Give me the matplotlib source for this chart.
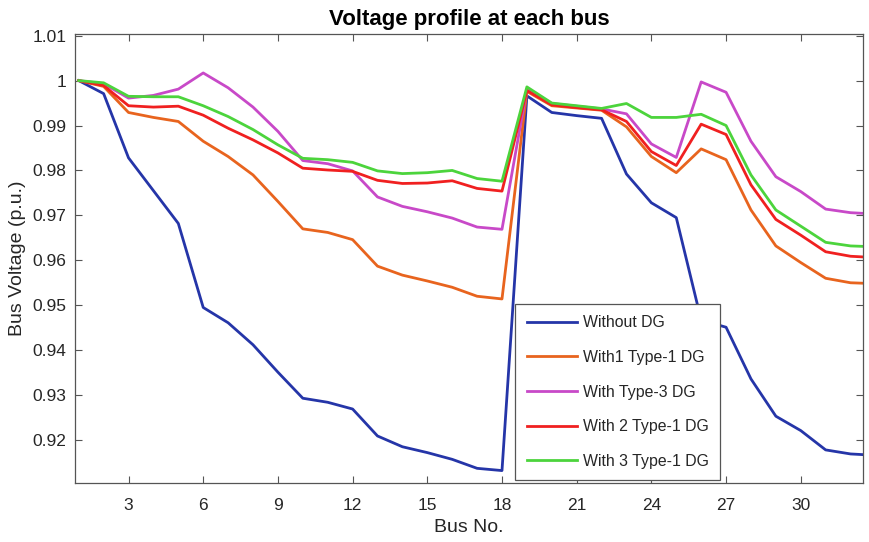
import numpy as np
import matplotlib.pyplot as plt

# Spannungsprofil je Bus
bus = np.arange(1, 34)

without_dg = [1.0, 0.9971, 0.9828, 0.9755, 0.9682, 0.9495, 0.9461, 0.9412, 0.9351, 0.9293,
              0.9284, 0.9269, 0.9209, 0.9185, 0.9172, 0.9157, 0.9137, 0.9132, 0.9966, 0.9929,
              0.9922, 0.9916, 0.9792, 0.9728, 0.9695, 0.9467, 0.9451, 0.9336, 0.9253, 0.9221,
              0.9178, 0.9169, 0.9166]
with1_type1 = [1.0, 0.9987, 0.9929, 0.9918, 0.9909, 0.9865, 0.9831, 0.9790, 0.9731, 0.9670,
               0.9662, 0.9646, 0.9587, 0.9567, 0.9554, 0.9540, 0.9520, 0.9514, 0.9976, 0.9944,
               0.9939, 0.9934, 0.9897, 0.9831, 0.9795, 0.9848, 0.9824, 0.9712, 0.9632, 0.9595,
               0.9560, 0.9550, 0.9548]
with_type3 = [1.0, 0.9993, 0.9961, 0.9967, 0.9981, 1.0017, 0.9984, 0.9941, 0.9887, 0.9822,
              0.9815, 0.9799, 0.9741, 0.9720, 0.9708, 0.9694, 0.9674, 0.9669, 0.9981, 0.9949,
              0.9943, 0.9937, 0.9926, 0.9859, 0.9829, 0.9997, 0.9974, 0.9865, 0.9786, 0.9753,
              0.9714, 0.9706, 0.9703]
with2_type1 = [1.0, 0.9989, 0.9944, 0.9941, 0.9943, 0.9923, 0.9894, 0.9868, 0.9839, 0.9805,
               0.9801, 0.9798, 0.9778, 0.9771, 0.9772, 0.9777, 0.9760, 0.9754, 0.9978, 0.9946,
               0.9940, 0.9935, 0.9909, 0.9842, 0.9811, 0.9903, 0.9880, 0.9768, 0.9691, 0.9656,
               0.9619, 0.9609, 0.9606]
with3_type1 = [1.0, 0.9995, 0.9965, 0.9964, 0.9964, 0.9944, 0.9920, 0.9891, 0.9857, 0.9827,
               0.9824, 0.9818, 0.9799, 0.9793, 0.9795, 0.9800, 0.9782, 0.9776, 0.9986, 0.9950,
               0.9944, 0.9938, 0.9949, 0.9918, 0.9918, 0.9925, 0.9900, 0.9790, 0.9712, 0.9676,
               0.9640, 0.9632, 0.9630]

labels = ['Without DG', 'With1 Type-1 DG', 'With Type-3 DG', 'With 2 Type-1 DG', 'With 3 Type-1 DG']
colors = ['#2535A8', '#E8641E', '#C849C8', '#F02020', '#4CD43C']
series = [without_dg, with1_type1, with_type3, with2_type1, with3_type1]

plt.rcParams['font.family'] = ['Liberation Sans', 'DejaVu Sans']

fig = plt.figure(figsize=(8.69, 5.42), dpi=100)
ax = fig.add_axes([0.0863, 0.1094, 0.9068, 0.8273])

for y, lab, col in zip(series, labels, colors):
    ax.plot(bus, y, color=col, linewidth=2.0, label=lab)

ax.set_xlim(0.85, 32.5)
ax.set_ylim(0.9105, 1.0103)
ax.set_xticks(range(3, 31, 3))
ax.set_yticks([0.92, 0.93, 0.94, 0.95, 0.96, 0.97, 0.98, 0.99, 1.0, 1.01])
ax.set_yticklabels(['0.92', '0.93', '0.94', '0.95', '0.96', '0.97', '0.98', '0.99', '1', '1.01'])
ax.tick_params(direction='in', top=True, right=True, length=5, width=0.8,
               colors='#555555', labelcolor='#262626', labelsize=12.5)
ax.tick_params(axis='x', pad=11)
ax.tick_params(axis='y', pad=6)
for s in ax.spines.values():
    s.set_color('#555555')
    s.set_linewidth(0.9)

ax.set_title('Voltage profile at each bus', fontsize=16, fontweight='bold', pad=7)
ax.set_xlabel('Bus No.', fontsize=14, color='#262626', labelpad=4)
ax.set_ylabel('Bus Voltage (p.u.)', fontsize=14, color='#262626', labelpad=5)

leg = ax.legend(loc='lower left', bbox_to_anchor=(0.559, 0.006), borderaxespad=0,
                fontsize=11.4, fancybox=False, framealpha=1, edgecolor='#555555',
                handlelength=3.2, labelspacing=1.24, borderpad=0.7, handletextpad=0.35)
leg.get_frame().set_linewidth(0.9)
for t in leg.get_texts():
    t.set_color('#262626')

fig.savefig('out.png', dpi=100)
